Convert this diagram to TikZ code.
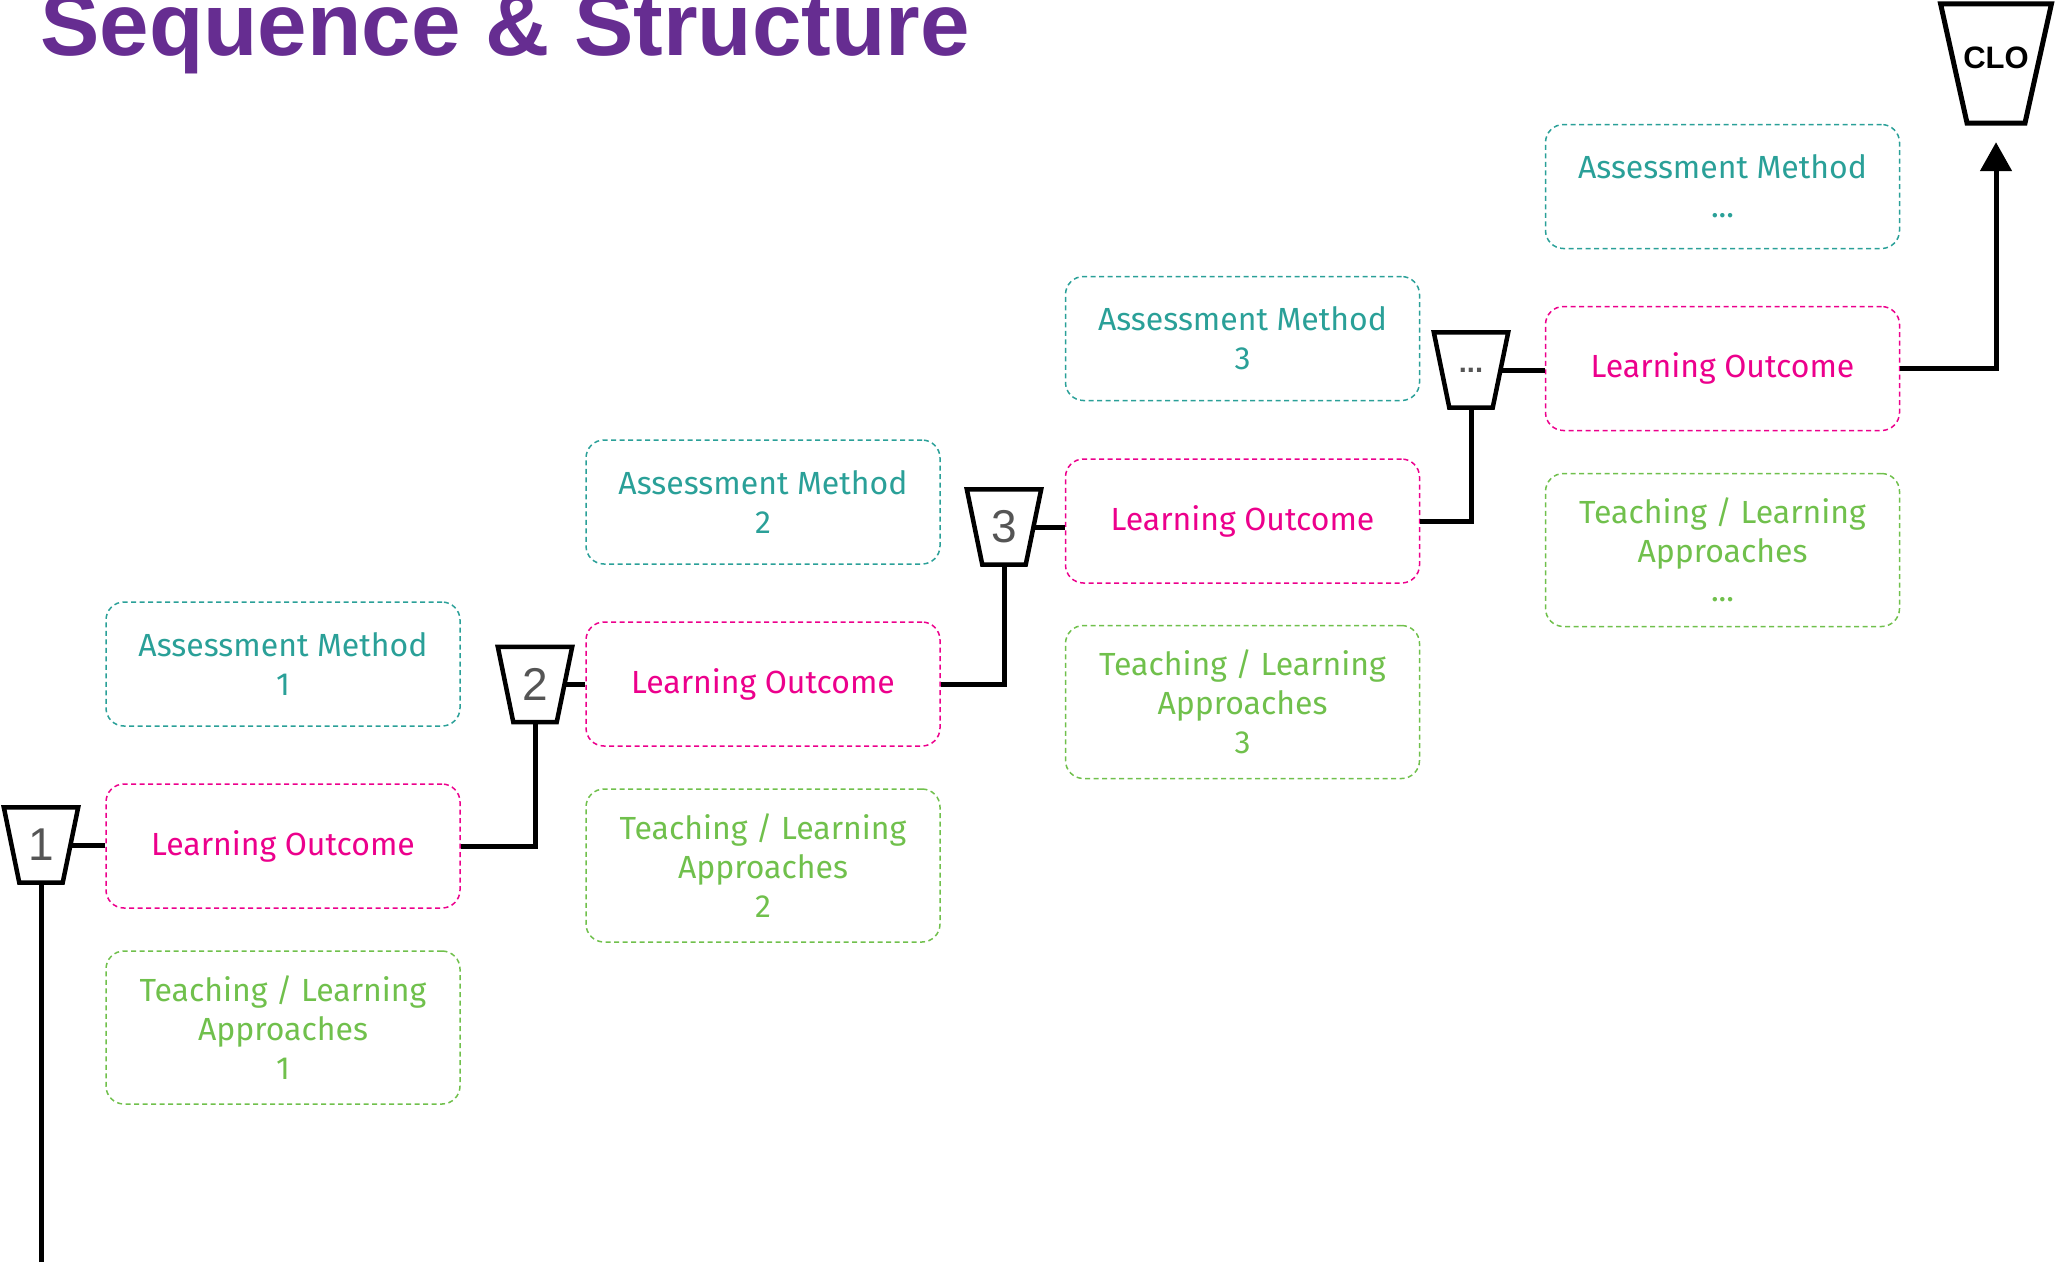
\documentclass[tikz,border=0pt]{standalone}
\usepackage{fontspec}
\setmainfont{Fira Sans}
\newfontfamily\titlefont{Liberation Sans}
\usetikzlibrary{arrows.meta}
\definecolor{seqpurple}{HTML}{662D91}
\definecolor{amteal}{HTML}{2AA098}
\definecolor{lopink}{HTML}{EC008C}
\definecolor{tlgreen}{HTML}{70C04C}
\definecolor{gatetext}{HTML}{555555}
\begin{document}
\begin{tikzpicture}[x=1pt,y=-1pt,
    box/.style={rounded corners=18pt, line width=1.5pt, dash pattern=on 5pt off 3.5pt,
        minimum width=354pt, minimum height=124pt, align=center, inner sep=0pt,
        font=\fontsize{32}{39}\selectfont},
    assess/.style={box, draw=amteal, text=amteal},
    outcome/.style={box, draw=lopink, text=lopink},
    approach/.style={box, draw=tlgreen, text=tlgreen, minimum height=153pt},
    gate/.style={minimum width=58.5pt, minimum height=75pt, inner sep=0pt, text=gatetext,
        font=\titlefont\fontsize{46}{46}\selectfont},
    gateline/.style={line width=4.5pt},
    link/.style={line width=5pt}]
    \clip (0,0) rectangle (2060,1262);

    \node[anchor=base west, inner sep=0pt, text=seqpurple,
        font=\titlefont\bfseries\fontsize{89}{89}\selectfont] (title) at (40,55) {Sequence \& Structure};

    % first step
    \node[assess] (am1) at (283,664) {Assessment Method\\1};
    \node[outcome] (lo1) at (283,846) {Learning Outcome};
    \node[approach] (tla1) at (283,1027.5) {Teaching / Learning\\Approaches\\1};
    \node[gate] (g1) at (41,845) {1};

    % second step
    \node[assess] (am2) at (763,502) {Assessment Method\\2};
    \node[outcome] (lo2) at (763,684) {Learning Outcome};
    \node[approach] (tla2) at (763,865.5) {Teaching / Learning\\Approaches\\2};
    \node[gate] (g2) at (535,684.5) {2};

    % third step
    \node[assess] (am3) at (1242.5,338.5) {Assessment Method\\3};
    \node[outcome] (lo3) at (1242.5,521) {Learning Outcome};
    \node[approach] (tla3) at (1242.5,702) {Teaching / Learning\\Approaches\\3};
    \node[gate] (g3) at (1004,527) {3};

    % further steps
    \node[assess] (am4) at (1722.5,186.5) {Assessment Method\\...};
    \node[outcome] (lo4) at (1722.5,368.5) {Learning Outcome};
    \node[approach] (tla4) at (1722.5,550) {Teaching / Learning\\Approaches\\...};
    \node[gate, font=\titlefont\bfseries\fontsize{29}{29}\selectfont] (g4) at (1471,370) {...};

    \node[gate, minimum width=84pt, minimum height=119pt, text=black,
        font=\titlefont\bfseries\fontsize{31}{31}\selectfont] (clo) at (1996,63.5) {\raisebox{11pt}{CLO}};

    % gate outlines, wide at the top
    \foreach \g in {g1,g2,g3,g4}
        \draw[gateline] ([xshift=-7.75pt]\g.north west) -- ([xshift=7.75pt]\g.north east)
            -- ([xshift=-7.75pt]\g.south east) -- ([xshift=7.75pt]\g.south west) -- cycle;
    \draw[gateline, line width=5pt] ([xshift=-13.25pt]clo.north west) -- ([xshift=13.25pt]clo.north east)
        -- ([xshift=-13.25pt]clo.south east) -- ([xshift=13.25pt]clo.south west) -- cycle;

    \coordinate (foot) at (41,1262);

    \draw[link] (foot) -- (g1);
    \draw[link] (g1) -- (g1 -| lo1.west);
    \draw[link] (lo1) -| (g2);
    \draw[link] (g2) -- (g2 -| lo2.west);
    \draw[link] (lo2) -| (g3);
    \draw[link] (g3) -- (g3 -| lo3.west);
    \draw[link] (lo3) -| (g4);
    \draw[link] (g4) -- (g4 -| lo4.west);
    \draw[link, -{Triangle[width=31pt,length=29pt]}, shorten >=19pt] (lo4) -| (clo);
\end{tikzpicture}
\end{document}
